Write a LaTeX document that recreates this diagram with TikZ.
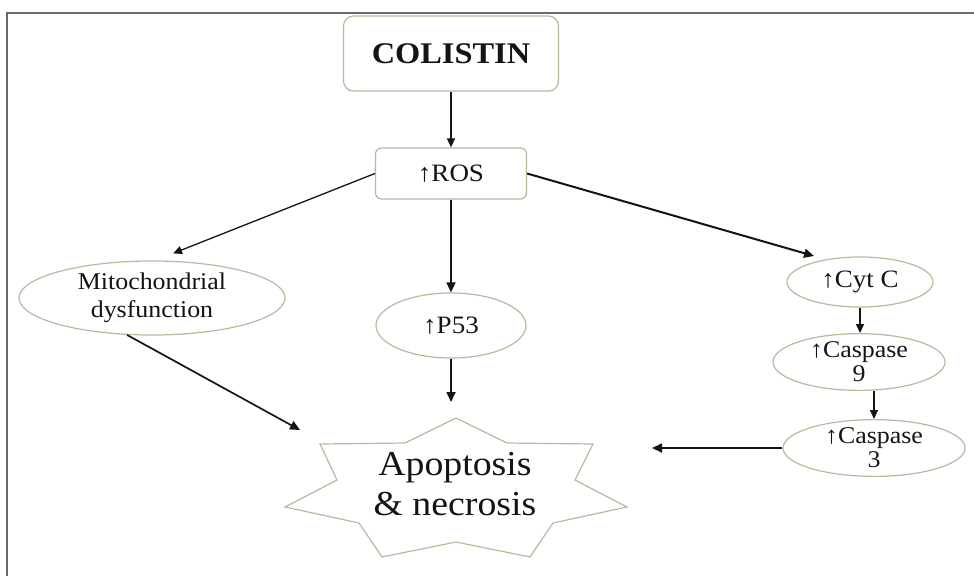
\documentclass[tikz,border=0pt]{standalone}
\usepackage{fontspec}
\setmainfont[FakeStretch=1.08]{Liberation Serif}
\usetikzlibrary{arrows.meta,shapes.geometric}

\definecolor{edgegreen}{RGB}{176,190,158}
\definecolor{framegray}{RGB}{105,105,105}
\definecolor{inkblack}{RGB}{20,20,20}

\begin{document}
\begin{tikzpicture}[x=1pt,y=-1pt,
  every node/.style={font=\fontsize{24}{24}\selectfont, text=inkblack, align=center, inner sep=0pt},
  boxnode/.style={draw=edgegreen, line width=1.2pt, fill=white, rounded corners=10pt},
  oval/.style={ellipse, draw=edgegreen, line width=1.2pt, fill=white},
  link/.style={draw=inkblack, line width=1.7pt, -{Triangle[length=10pt,width=9pt]}},
  thinlink/.style={link, line width=1.3pt, -{Triangle[length=9pt,width=8pt]}},
]
\useasboundingbox (0,0) rectangle (974,576);

% frame
\draw[framegray, line width=2pt] (974,12.5) -- (7,12.5) -- (7,576);

% nodes
\node[boxnode, minimum width=215pt, minimum height=75pt,
      font=\bfseries\fontsize{30}{32}\selectfont] (colistin) at (451,53.5) {COLISTIN};
\node[boxnode, rounded corners=6pt, minimum width=151pt, minimum height=51pt,
      font=\fontsize{25}{26}\selectfont] (ros) at (451,173.5) {↑ROS};
\node[oval, minimum width=266pt, minimum height=74pt, font=\fontsize{24}{28}\selectfont] (mito) at (152,298) {Mitochondrial\\dysfunction};
\node[oval, minimum width=150pt, minimum height=65pt, font=\fontsize{25}{26}\selectfont] (p53) at (451,325.5) {↑P53};
\node[oval, minimum width=146pt, minimum height=50pt, font=\fontsize{25}{26}\selectfont] (cytc) at (860,282) {↑Cyt C};
\node[oval, minimum width=172pt, minimum height=50pt] (casp9) at (859,362) {↑Caspase\\9};
\node[oval, minimum width=182pt, minimum height=56pt] (casp3) at (874,448) {↑Caspase\\3};

% seven-pointed star
\draw[draw=edgegreen, line width=1.2pt, fill=white]
  (456,418) -- (507,443) -- (593,444) -- (575,480) -- (627,507) -- (553,523) -- (530,557)
  -- (456,542) -- (382,557) -- (359,523) -- (285,507) -- (337,480) -- (320,444) -- (405,443) -- cycle;
\node[font=\fontsize{35}{40}\selectfont] (apop) at (455,484) {Apoptosis\\\& necrosis};

% arrow targets around the star
\coordinate (apopW) at (300,430);
\coordinate (apopN) at (451,402);
\coordinate (apopE) at (652,448);

% connectors
\draw[thinlink] (colistin.south) -- (ros.north);
\draw[thinlink] (ros.west) -- ([shift={(21,-7)}]mito.north);
\draw[link] (ros.south) -- (p53.north);
\draw[link, line width=2pt] (ros.east) -- ([shift={(-46,-26)}]cytc.center);
\draw[link] (mito.236) -- (apopW);
\draw[link] (p53.south) -- (apopN);
\draw[thinlink] (cytc.south) -- (cytc.south |- casp9.north);
\draw[thinlink] (casp3.north |- casp9.south) -- (casp3.north);
\draw[link] (casp3.west) -- (apopE);
\end{tikzpicture}
\end{document}
